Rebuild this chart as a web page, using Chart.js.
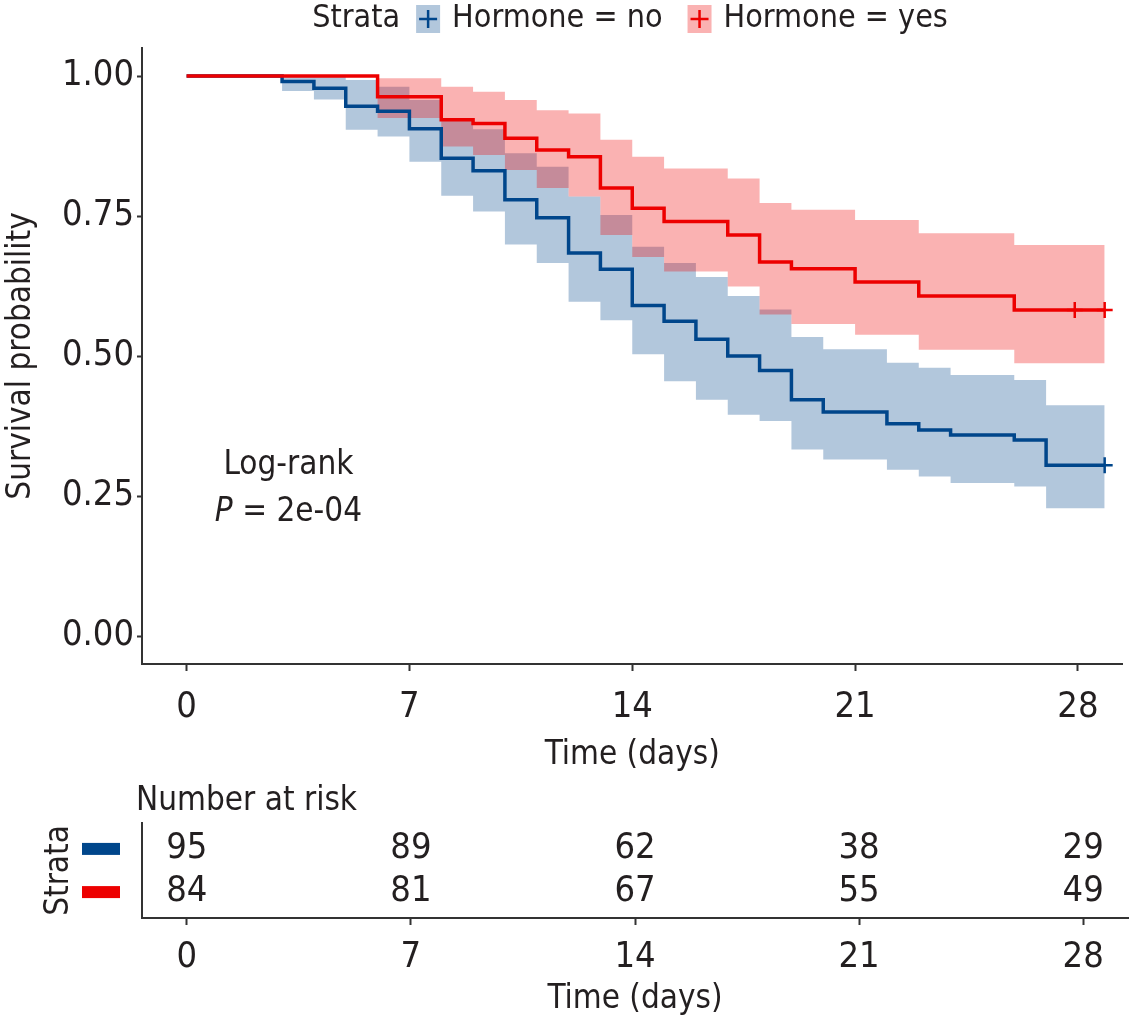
<!DOCTYPE html>
<html>
<head>
<meta charset="utf-8">
<style>
  body { margin: 0; background: #fff; }
  canvas { position: absolute; left: 0; }
  #top { top: 0; }
  #risk { top: 780px; }
</style>
</head>
<body>
<canvas id="top" width="1133" height="780"></canvas>
<canvas id="risk" width="1133" height="241"></canvas>

<script src="https://cdn.jsdelivr.net/npm/chart.js@4.4.1/dist/chart.umd.min.js"></script>
<script>
// values
const xTicks = [0, 7, 14, 21, 28]
const yTicks = [0, 0.25, 0.5, 0.75, 1]
const endTime = 28.84

// Hormone = no
const noTimes = [0, 3, 4, 5, 6, 7, 8, 9, 10, 11, 12, 13, 14, 15, 16, 17, 18, 19, 20, 22, 23, 24, 26, 27]
const noSurv  = [1, 0.990, 0.978, 0.946, 0.937, 0.906, 0.853, 0.831, 0.779, 0.747, 0.684, 0.655, 0.590, 0.562, 0.530, 0.500, 0.474, 0.422, 0.400, 0.379, 0.368, 0.359, 0.350, 0.305]
const noUpper = [1, 1, 1, 0.993, 0.981, 0.957, 0.924, 0.905, 0.862, 0.838, 0.785, 0.752, 0.695, 0.666, 0.641, 0.607, 0.583, 0.534, 0.512, 0.488, 0.479, 0.466, 0.457, 0.412]
const noLower = [1, 0.973, 0.958, 0.904, 0.892, 0.847, 0.786, 0.758, 0.699, 0.666, 0.597, 0.564, 0.503, 0.455, 0.422, 0.395, 0.384, 0.333, 0.315, 0.297, 0.285, 0.273, 0.267, 0.228]
const noCensor = [28.84]

// Hormone = yes
const yesTimes = [0, 6, 8, 9, 10, 11, 12, 13, 14, 15, 17, 18, 19, 21, 23, 26]
const yesSurv  = [1, 0.963, 0.922, 0.915, 0.889, 0.868, 0.856, 0.800, 0.764, 0.740, 0.716, 0.668, 0.656, 0.632, 0.607, 0.582]
const yesUpper = [1, 0.996, 0.981, 0.972, 0.957, 0.939, 0.933, 0.886, 0.856, 0.835, 0.817, 0.773, 0.761, 0.743, 0.719, 0.698]
const yesLower = [1, 0.925, 0.874, 0.859, 0.832, 0.800, 0.785, 0.716, 0.677, 0.651, 0.624, 0.574, 0.557, 0.538, 0.511, 0.487]
const yesCensor = [27.9, 28.84]

// number at risk
const riskTimes = [0, 7, 14, 21, 28]
const riskNo  = [95, 89, 62, 38, 29]
const riskYes = [84, 81, 67, 55, 49]

const strataLabels = ['Hormone = no', 'Hormone = yes']

const FONT = "'DejaVu Sans Condensed', 'DejaVu Sans', sans-serif"
const TEXT = '#231f20'
const AXIS = '#333333'
const BLUE = '#00468B'
const RED = '#ED0000'
const BLUE_BAND = 'rgba(0,70,139,0.3)'
const RED_BAND = 'rgba(237,0,0,0.3)'

Chart.defaults.font.family = FONT
Chart.defaults.color = TEXT

function steps(times, vals) {
  let pts = times.map((t, i) => ({ x: t, y: vals[i] }))
  pts.push({ x: endTime, y: vals[vals.length - 1] })
  return pts
}

function censorPts(times, stimes, vals) {
  return times.map(t => {
    let i = 0
    while (i + 1 < stimes.length && stimes[i + 1] <= t) i++
    return { x: t, y: vals[i] }
  })
}

// chart.js 'before' = horizontal first, then the drop
function band(data, order) {
  return { data, borderColor: 'rgba(0,0,0,0)', borderWidth: 0, pointRadius: 0, stepped: 'before', fill: false, order }
}

const legendPlugin = {
  id: 'strataLegend',
  afterDraw(chart) {
    const ctx = chart.ctx
    ctx.save()
    ctx.font = `32px ${FONT}`
    ctx.textBaseline = 'middle'
    const y = 19
    const items = [
      { label: strataLabels[0], line: BLUE, fill: BLUE_BAND },
      { label: strataLabels[1], line: RED, fill: RED_BAND },
    ]
    let total = ctx.measureText('Strata').width + 16
    items.forEach((it, i) => { total += 24 + 12 + ctx.measureText(it.label).width + (i ? 0 : 25) })
    let x = 630 - total / 2
    ctx.fillStyle = TEXT
    ctx.fillText('Strata', x, y)
    x += ctx.measureText('Strata').width + 16
    items.forEach(it => {
      ctx.fillStyle = it.fill
      ctx.fillRect(x, y - 14, 24, 28)
      ctx.strokeStyle = it.line
      ctx.lineWidth = 2.5
      ctx.beginPath()
      ctx.moveTo(x + 3, y); ctx.lineTo(x + 21, y)
      ctx.moveTo(x + 12, y - 9); ctx.lineTo(x + 12, y + 9)
      ctx.stroke()
      x += 24 + 12
      ctx.fillStyle = TEXT
      ctx.fillText(it.label, x, y)
      x += ctx.measureText(it.label).width + 25
    })
    ctx.restore()
  }
}

const logRankPlugin = {
  id: 'logRank',
  afterDatasetsDraw(chart) {
    const ctx = chart.ctx
    const sx = chart.scales.x, sy = chart.scales.y
    const cx = sx.getPixelForValue(3.2)
    ctx.save()
    ctx.fillStyle = TEXT
    ctx.textBaseline = 'middle'
    ctx.textAlign = 'center'
    ctx.font = `33px ${FONT}`
    ctx.fillText('Log-rank', cx, sy.getPixelForValue(0.305))
    const rest = ' = 2e-04'
    const wRest = ctx.measureText(rest).width
    ctx.font = `italic 33px ${FONT}`
    const wP = ctx.measureText('P').width
    const y2 = sy.getPixelForValue(0.221)
    ctx.textAlign = 'left'
    let x0 = cx - (wP + wRest) / 2
    ctx.fillText('P', x0, y2)
    ctx.font = `33px ${FONT}`
    ctx.fillText(rest, x0 + wP, y2)
    ctx.restore()
  }
}

new Chart(document.getElementById('top'), {
  type: 'line',
  data: {
    datasets: [
      { data: steps(yesTimes, yesSurv), borderColor: RED, borderWidth: 3.5, stepped: 'before', pointRadius: 0, fill: false, order: 1 },
      { data: steps(noTimes, noSurv), borderColor: BLUE, borderWidth: 3.5, stepped: 'before', pointRadius: 0, fill: false, order: 2 },
      band(steps(yesTimes, yesLower), 3),
      Object.assign(band(steps(yesTimes, yesUpper), 3), { fill: { target: 2 }, backgroundColor: RED_BAND }),
      band(steps(noTimes, noLower), 4),
      Object.assign(band(steps(noTimes, noUpper), 4), { fill: { target: 4 }, backgroundColor: BLUE_BAND }),
      { data: censorPts(yesCensor, yesTimes, yesSurv), showLine: false, pointStyle: 'cross', pointRadius: 8,
        pointBorderColor: RED, pointBorderWidth: 2.5, order: 0 },
      { data: censorPts(noCensor, noTimes, noSurv), showLine: false, pointStyle: 'cross', pointRadius: 8,
        pointBorderColor: BLUE, pointBorderWidth: 2.5, order: 0 },
    ]
  },
  options: {
    responsive: false,
    animation: false,
    layout: { padding: { left: 2, top: 48, right: 5, bottom: 0 } },
    plugins: { legend: { display: false }, tooltip: { enabled: false } },
    scales: {
      x: {
        type: 'linear', min: -1.4, max: 29.4,
        afterBuildTicks: s => { s.ticks = xTicks.map(v => ({ value: v })) },
        afterFit: s => { s.height = 116 },
        grid: { drawOnChartArea: false, drawTicks: true, tickLength: 7, tickColor: AXIS, tickWidth: 2 },
        border: { display: true, color: AXIS, width: 2 },
        ticks: { font: { size: 36 }, color: TEXT, padding: 15, maxRotation: 0 },
        title: { display: true, text: 'Time (days)', font: { size: 33 }, color: TEXT, padding: { top: 0, bottom: 5 } }
      },
      y: {
        type: 'linear', min: -0.05, max: 1.05,
        afterBuildTicks: s => { s.ticks = yTicks.map(v => ({ value: v })) },
        afterFit: s => { s.width = 140 },
        grid: { drawOnChartArea: false, drawTicks: true, tickLength: 5, tickColor: AXIS, tickWidth: 2 },
        border: { display: true, color: AXIS, width: 2 },
        ticks: { font: { size: 36 }, color: TEXT, padding: 3, callback: v => v.toFixed(2) },
        title: { display: true, text: 'Survival probability', font: { size: 33 }, color: TEXT, padding: { top: 0, bottom: 0 } }
      }
    }
  },
  plugins: [legendPlugin, logRankPlugin]
})

// risk table
const riskPlugin = {
  id: 'riskText',
  afterDraw(chart) {
    const ctx = chart.ctx
    ctx.save()
    ctx.font = `33px ${FONT}`
    ctx.fillStyle = TEXT
    ctx.textBaseline = 'middle'
    ctx.textAlign = 'left'
    ctx.fillText('Number at risk', chart.chartArea.left - 6, 21)
    ctx.font = `36px ${FONT}`
    ctx.textAlign = 'center'
    chart.data.datasets.forEach((ds, di) => {
      const meta = chart.getDatasetMeta(di)
      meta.data.forEach((pt, i) => { ctx.fillText(String(ds.counts[i]), pt.x, pt.y) })
      const yk = meta.data[0].y
      ctx.fillStyle = ds.keyColor
      ctx.fillRect(82, yk - 6, 38, 12)
      ctx.fillStyle = TEXT
    })
    ctx.restore()
  }
}

new Chart(document.getElementById('risk'), {
  type: 'line',
  data: {
    datasets: [
      { data: riskTimes.map(t => ({ x: t, y: 2 })), counts: riskNo, keyColor: BLUE, showLine: false, pointRadius: 0 },
      { data: riskTimes.map(t => ({ x: t, y: 1 })), counts: riskYes, keyColor: RED, showLine: false, pointRadius: 0 },
    ]
  },
  options: {
    responsive: false,
    animation: false,
    layout: { padding: { left: 40, top: 43, right: 5, bottom: 0 } },
    plugins: { legend: { display: false }, tooltip: { enabled: false } },
    scales: {
      x: {
        type: 'linear', min: -1.4, max: 29.4,
        afterBuildTicks: s => { s.ticks = xTicks.map(v => ({ value: v })) },
        afterFit: s => { s.height = 103 },
        grid: { drawOnChartArea: false, drawTicks: true, tickLength: 7, tickColor: AXIS, tickWidth: 2 },
        border: { display: true, color: AXIS, width: 2 },
        ticks: { font: { size: 36 }, color: TEXT, padding: 11, maxRotation: 0 },
        title: { display: true, text: 'Time (days)', font: { size: 33 }, color: TEXT, padding: { top: 0, bottom: 2 } }
      },
      y: {
        type: 'linear', min: 0.4, max: 2.6,
        afterBuildTicks: s => { s.ticks = [1, 2].map(v => ({ value: v })) },
        afterFit: s => { s.width = 102 },
        grid: { display: false },
        border: { display: true, color: AXIS, width: 2 },
        ticks: { display: false },
        title: { display: true, text: 'Strata', font: { size: 33 }, color: TEXT, padding: { top: 0, bottom: 0 } }
      }
    }
  },
  plugins: [riskPlugin]
})
</script>
</body>
</html>
